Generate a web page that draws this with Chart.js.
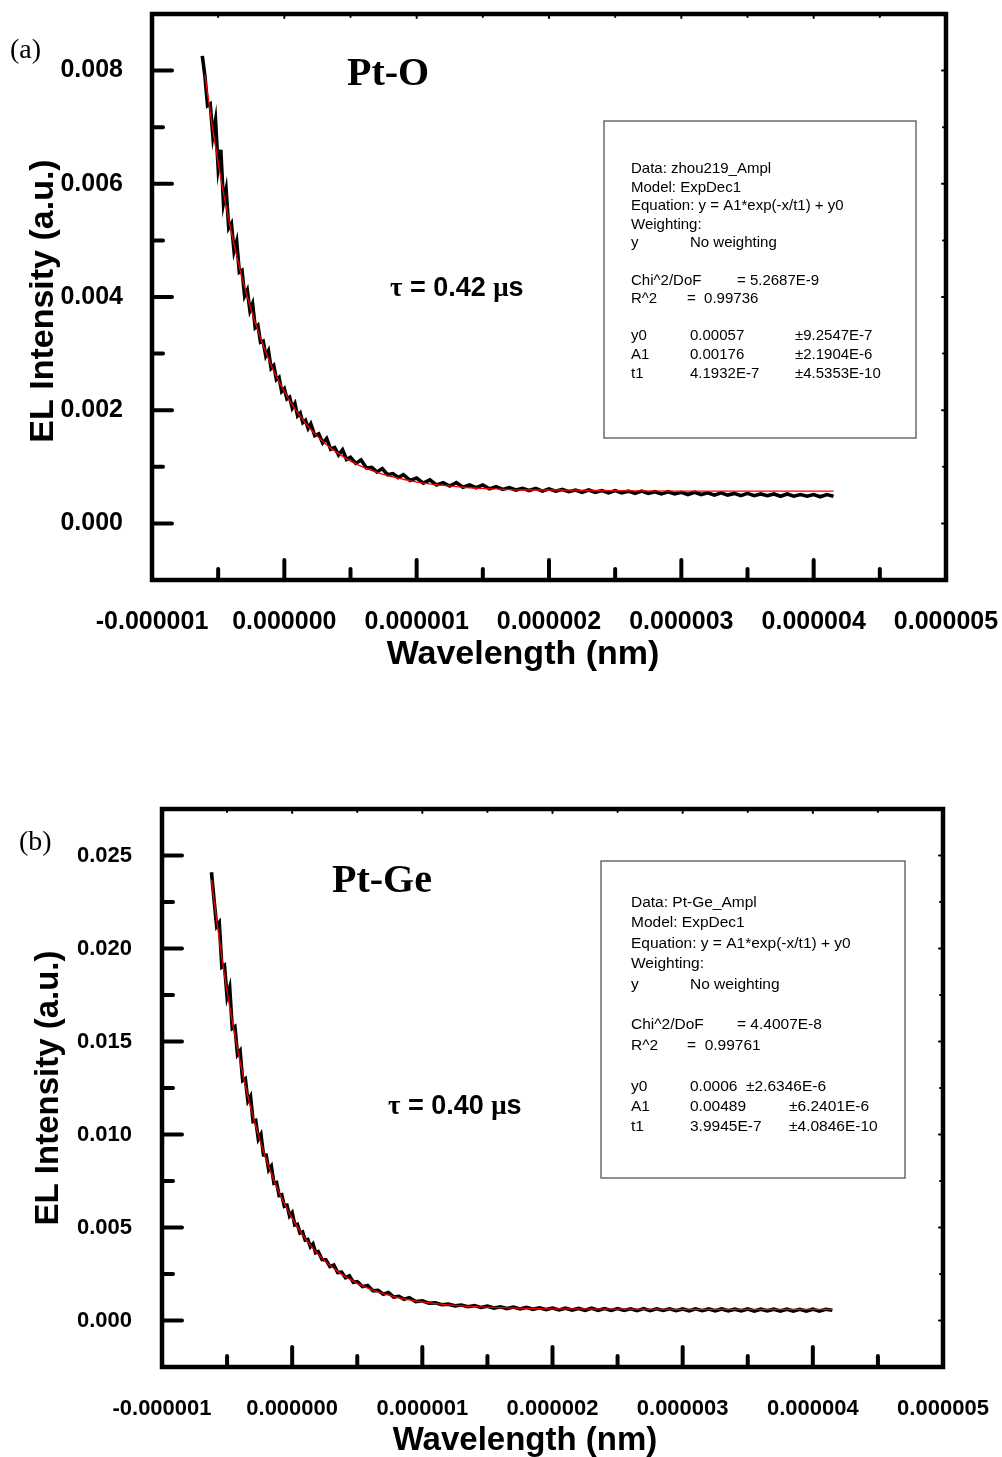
<!DOCTYPE html>
<html>
<head>
<meta charset="utf-8">
<script src="https://cdn.jsdelivr.net/npm/chart.js@4.4.1/dist/chart.umd.min.js"></script>
<style>
  html, body { margin: 0; padding: 0; background: #fff; }
  #page { position: relative; width: 1002px; height: 1457px; overflow: hidden; }
  #page canvas { position: absolute; left: 0; }
  #chartA { top: 0; }
  #chartB { top: 740px; }
</style>
</head>
<body>
<div id="page">
  <canvas id="chartA" width="1002" height="700"></canvas>
  <canvas id="chartB" width="1002" height="717"></canvas>
</div>
<script>
// ---- axes (time in microseconds, labelled in seconds like the original plot) ----
const xMajor = [-1, 0, 1, 2, 3, 4, 5];
const xMinor = [-0.5, 0.5, 1.5, 2.5, 3.5, 4.5];
const xTickLabels = ['-0.000001', '0.000000', '0.000001', '0.000002', '0.000003', '0.000004', '0.000005'];

const yMajorA = [0, 0.002, 0.004, 0.006, 0.008];
const yMinorA = [0.001, 0.003, 0.005, 0.007];
const yTickLabelsA = ['0.000', '0.002', '0.004', '0.006', '0.008'];

const yMajorB = [0, 0.005, 0.010, 0.015, 0.020, 0.025];
const yMinorB = [0.0025, 0.0075, 0.0125, 0.0175, 0.0225];
const yTickLabelsB = ['0.000', '0.005', '0.010', '0.015', '0.020', '0.025'];

// ---- (a) Pt-O : measured trace ----
const timeA = [-0.62,-0.60,-0.58,-0.56,-0.54,-0.52,-0.50,-0.48,-0.46,-0.44,-0.42,-0.40,-0.38,-0.36,-0.34,-0.32,
  -0.30,-0.28,-0.26,-0.24,-0.22,-0.20,-0.18,-0.16,-0.14,-0.12,-0.10,-0.08,-0.06,-0.04,-0.02,0.00,
  0.02,0.04,0.06,0.08,0.10,0.12,0.14,0.16,0.18,0.20,0.23,0.26,0.29,0.32,0.35,0.38,0.41,0.44,0.47,0.50,
  0.54,0.58,0.62,0.66,0.70,0.74,0.78,0.82,0.86,0.90,0.95,
  1.00,1.05,1.10,1.15,1.20,1.25,1.30,1.35,1.40,1.45,1.50,1.55,1.60,1.65,1.70,1.75,1.80,1.85,1.90,1.95,
  2.00,2.05,2.10,2.15,2.20,2.25,2.30,2.35,2.40,2.45,2.50,2.55,2.60,2.65,2.70,2.75,2.80,2.85,2.90,2.95,
  3.00,3.05,3.10,3.15,3.20,3.25,3.30,3.35,3.40,3.45,3.50,3.55,3.60,3.65,3.70,3.75,3.80,3.85,3.90,3.95,
  4.00,4.05,4.10,4.15];
const signalA = [0.00826,0.00790,0.00738,0.00741,0.00684,0.00712,0.00628,0.00660,0.00566,0.00590,0.00522,0.00530,0.00481,0.00498,0.00444,0.00447,
  0.00402,0.00412,0.00376,0.00388,0.00346,0.00350,0.00320,0.00322,0.00296,0.00305,0.00274,0.00279,0.00254,0.00258,0.00233,0.00238,
  0.00220,0.00223,0.00204,0.00212,0.00190,0.00195,0.00178,0.00182,0.00168,0.00176,0.00155,0.00158,0.00142,0.00150,0.00131,0.00134,0.00121,0.00130,0.00113,0.00117,
  0.00106,0.00112,0.00098,0.00099,0.00091,0.00097,0.00086,0.00088,0.00081,0.00086,0.00076,
  0.00080,0.00071,0.00077,0.00068,0.00072,0.00066,0.00072,0.00064,0.00068,0.00063,0.00068,0.00061,0.00065,0.00060,0.00063,0.00059,0.00062,0.00058,0.00062,0.00057,
  0.00061,0.00057,0.00060,0.00056,0.00059,0.00055,0.00059,0.00055,0.00058,0.00054,0.00058,0.00054,0.00057,0.00053,0.00057,0.00053,0.00056,0.00052,0.00056,0.00052,
  0.00055,0.00051,0.00055,0.00051,0.00054,0.00050,0.00054,0.00050,0.00053,0.00049,0.00053,0.00049,0.00052,0.00049,0.00052,0.00048,0.00052,0.00048,0.00051,0.00048,
  0.00051,0.00047,0.00051,0.00048];

// ---- (a) Pt-O : ExpDec1 fit (red) ----
const fitTimeA = [-0.60,-0.55,-0.50,-0.45,-0.40,-0.35,-0.30,-0.25,-0.20,-0.15,-0.10,-0.05,0.00,0.05,0.10,0.15,0.20,0.25,0.30,0.35,0.40,
  0.50,0.60,0.70,0.80,0.90,1.00,1.20,1.40,1.60,1.80,2.00,2.50,3.00,3.50,4.15];
const fitA = [0.00793,0.00710,0.00637,0.00572,0.00514,0.00463,0.00417,0.00377,0.00341,0.00309,0.00280,0.00255,0.00233,0.00213,0.00196,0.00180,0.00166,0.00154,0.00143,0.00133,0.00125,
  0.00110,0.00099,0.00090,0.00083,0.00078,0.00073,0.00067,0.00063,0.00061,0.00059,0.00059,0.00058,0.00057,0.00057,0.00057];

// ---- (b) Pt-Ge : measured trace ----
const timeB = [-0.62,-0.60,-0.58,-0.56,-0.54,-0.52,-0.50,-0.48,-0.46,-0.44,-0.42,-0.40,-0.38,-0.36,-0.34,-0.32,
  -0.30,-0.28,-0.26,-0.24,-0.22,-0.20,-0.18,-0.16,-0.14,-0.12,-0.10,-0.08,-0.06,-0.04,-0.02,0.00,
  0.02,0.04,0.06,0.08,0.10,0.12,0.14,0.16,0.18,0.20,0.23,0.26,0.29,0.32,0.35,0.38,0.41,0.44,0.47,0.50,
  0.54,0.58,0.62,0.66,0.70,0.74,0.78,0.82,0.86,0.90,0.95,
  1.00,1.05,1.10,1.15,1.20,1.25,1.30,1.35,1.40,1.45,1.50,1.55,1.60,1.65,1.70,1.75,1.80,1.85,1.90,1.95,
  2.00,2.05,2.10,2.15,2.20,2.25,2.30,2.35,2.40,2.45,2.50,2.55,2.60,2.65,2.70,2.75,2.80,2.85,2.90,2.95,
  3.00,3.05,3.10,3.15,3.20,3.25,3.30,3.35,3.40,3.45,3.50,3.55,3.60,3.65,3.70,3.75,3.80,3.85,3.90,3.95,
  4.00,4.05,4.10,4.15];
const signalB = [0.02410,0.02260,0.02120,0.02140,0.01900,0.01910,0.01740,0.01790,0.01570,0.01580,0.01430,0.01450,0.01290,0.01300,0.01180,0.01205,
  0.01070,0.01075,0.00975,0.01000,0.00890,0.00890,0.00810,0.00830,0.00738,0.00742,0.00672,0.00676,0.00614,0.00620,0.00562,0.00580,
  0.00514,0.00518,0.00470,0.00476,0.00432,0.00436,0.00396,0.00412,0.00364,0.00370,0.00328,0.00326,0.00290,0.00298,0.00258,0.00260,0.00230,0.00240,0.00206,0.00209,
  0.00182,0.00188,0.00160,0.00162,0.00141,0.00150,0.00126,0.00130,0.00114,0.00123,0.00102,
  0.00106,0.00093,0.00095,0.00085,0.00088,0.00079,0.00083,0.00074,0.00080,0.00070,0.00077,0.00067,0.00074,0.00064,0.00072,0.00062,0.00070,0.00060,0.00068,0.00059,
  0.00067,0.00057,0.00066,0.00056,0.00065,0.00055,0.00066,0.00055,0.00064,0.00054,0.00064,0.00054,0.00063,0.00053,0.00064,0.00053,0.00063,0.00054,0.00063,0.00053,
  0.00062,0.00052,0.00063,0.00053,0.00062,0.00052,0.00062,0.00052,0.00061,0.00052,0.00062,0.00051,0.00061,0.00052,0.00061,0.00051,0.00061,0.00051,0.00060,0.00051,
  0.00061,0.00050,0.00060,0.00055];

// ---- (b) Pt-Ge : ExpDec1 fit (red) ----
const fitTimeB = [-0.62,-0.60,-0.55,-0.50,-0.45,-0.40,-0.35,-0.30,-0.25,-0.20,-0.15,-0.10,-0.05,0.00,0.05,0.10,0.15,0.20,0.25,0.30,0.35,0.40,
  0.50,0.60,0.70,0.80,0.90,1.00,1.20,1.40,1.60,1.80,2.00,2.50,3.00,3.50,4.15];
const fitB = [0.02369,0.02256,0.01998,0.01770,0.01569,0.01391,0.01234,0.01096,0.00974,0.00867,0.00772,0.00688,0.00614,0.00549,0.00491,0.00441,0.00396,0.00356,0.00322,0.00291,0.00264,0.00240,
  0.00200,0.00169,0.00145,0.00126,0.00111,0.00100,0.00084,0.00075,0.00069,0.00065,0.00063,0.00061,0.00060,0.00060,0.00060];

// ---- fit report boxes ----
const reportA = [
  [['Data: zhou219_Ampl', 0]],
  [['Model: ExpDec1', 0]],
  [['Equation: y = A1*exp(-x/t1) + y0', 0]],
  [['Weighting:', 0]],
  [['y', 0], ['No weighting', 2]],
  [],
  [['Chi^2/DoF', 0], ['= 5.2687E-9', 3]],
  [['R^2', 0], ['=  0.99736', 1]],
  [],
  [['y0', 0], ['0.00057', 2], ['\u00B19.2547E-7', 4]],
  [['A1', 0], ['0.00176', 2], ['\u00B12.1904E-6', 4]],
  [['t1', 0], ['4.1932E-7', 2], ['\u00B14.5353E-10', 4]]
];
const reportB = [
  [['Data: Pt-Ge_Ampl', 0]],
  [['Model: ExpDec1', 0]],
  [['Equation: y = A1*exp(-x/t1) + y0', 0]],
  [['Weighting:', 0]],
  [['y', 0], ['No weighting', 2]],
  [],
  [['Chi^2/DoF', 0], ['= 4.4007E-8', 3]],
  [['R^2', 0], ['=  0.99761', 1]],
  [],
  [['y0', 0], ['0.0006  \u00B12.6346E-6', 2]],
  [['A1', 0], ['0.00489', 2], ['\u00B16.2401E-6', 4]],
  [['t1', 0], ['3.9945E-7', 2], ['\u00B14.0846E-10', 4]]
];

const SANS = '"Liberation Sans", Arial, sans-serif';
const SERIF = '"Liberation Serif", "Times New Roman", serif';

function toPoints(xs, ys){ return xs.map((x, i) => ({x: x, y: ys[i]})); }

// frame + inward ticks, drawn on top of the traces
function framePlugin(p){
  return {
    id: 'frame',
    afterDatasetsDraw(chart){
      const {ctx, chartArea: a, scales: {x, y}} = chart;
      ctx.save();
      ctx.strokeStyle = '#000';
      ctx.lineCap = 'round';
      const line = (x1, y1, x2, y2, w) => {
        ctx.lineWidth = w; ctx.beginPath(); ctx.moveTo(x1, y1); ctx.lineTo(x2, y2); ctx.stroke();
      };
      p.xMajor.forEach(v => { const px = x.getPixelForValue(v);
        line(px, a.bottom, px, a.bottom - 20, 4); line(px, a.top, px, a.top + 4, 2); });
      p.xMinor.forEach(v => { const px = x.getPixelForValue(v);
        line(px, a.bottom, px, a.bottom - 11, 4); line(px, a.top, px, a.top + 3, 2); });
      p.yMajor.forEach(v => { const py = y.getPixelForValue(v);
        line(a.left, py, a.left + 20, py, 4); line(a.right, py, a.right - 4, py, 2); });
      p.yMinor.forEach(v => { const py = y.getPixelForValue(v);
        line(a.left, py, a.left + 11, py, 4); line(a.right, py, a.right - 3, py, 2); });
      ctx.lineCap = 'butt';
      ctx.lineJoin = 'miter';
      ctx.lineWidth = 4.5;
      ctx.strokeRect(a.left, a.top, a.right - a.left, a.bottom - a.top);
      ctx.restore();
    }
  };
}

// titles and annotations (page coordinates, shifted by the canvas offset)
function textPlugin(t){
  return {
    id: 'labels',
    afterDraw(chart){
      const ctx = chart.ctx, off = t.offset;
      ctx.save();
      ctx.fillStyle = '#000';
      ctx.textBaseline = 'alphabetic';

      ctx.textAlign = 'left';
      ctx.font = '28px ' + SERIF;
      ctx.fillText(t.panel, t.panelX, t.panelY - off);

      ctx.font = 'bold 40px ' + SERIF;
      ctx.fillText(t.sample, t.sampleX, t.sampleY - off);

      // tau = x.xx mus
      let tx = t.tauX;
      const parts = [['\u03C4', SERIF], [' = ' + t.tau + ' ', SANS], ['\u03BC', SERIF], ['s', SANS]];
      parts.forEach(([s, f]) => {
        ctx.font = 'bold ' + t.tauSize + 'px ' + f;
        ctx.fillText(s, tx, t.tauY - off);
        tx += ctx.measureText(s).width;
      });

      // axis titles
      ctx.font = 'bold ' + t.titleSize + 'px ' + SANS;
      ctx.textAlign = 'center';
      ctx.fillText('Wavelength (nm)', t.xTitleX, t.xTitleY - off);
      ctx.save();
      ctx.translate(t.yTitleX, t.yTitleY - off);
      ctx.rotate(-Math.PI / 2);
      ctx.fillText('EL Intensity (a.u.)', 0, 0);
      ctx.restore();

      // fit report box
      const b = t.box;
      ctx.strokeStyle = '#555';
      ctx.lineWidth = 1.3;
      ctx.strokeRect(b.x, b.y - off, b.w, b.h);
      ctx.textAlign = 'left';
      ctx.font = b.font + 'px ' + SANS;
      t.report.forEach((row, i) => {
        row.forEach(([s, c]) => ctx.fillText(s, b.cols[c], b.firstLine + i * b.lineGap - off));
      });
      ctx.restore();
    }
  };
}

function makeChart(id, cfg){
  const tickFont = {family: SANS, weight: 'bold', size: cfg.tickSize};
  return new Chart(document.getElementById(id), {
    type: 'line',
    data: {
      datasets: [
        { label: 'ExpDec1 fit', data: toPoints(cfg.fitX, cfg.fitY), borderColor: '#ff0000', borderWidth: 1.3,
          pointRadius: 0, cubicInterpolationMode: 'monotone', fill: false },
        { label: 'EL decay', data: toPoints(cfg.dataX, cfg.dataY), borderColor: '#000000', borderWidth: 3.6,
          pointRadius: 0, tension: 0, fill: false, borderJoinStyle: 'miter' }
      ]
    },
    options: {
      responsive: false,
      animation: false,
      events: [],
      layout: { padding: cfg.padding },
      plugins: { legend: { display: false }, tooltip: { enabled: false } },
      scales: {
        x: {
          type: 'linear', min: -1, max: 5,
          afterBuildTicks: s => { s.ticks = xMajor.map(v => ({value: v})); },
          ticks: { callback: (v, i) => xTickLabels[i], font: tickFont, color: '#000', padding: cfg.xPad,
                   maxRotation: 0, autoSkip: false },
          grid: { display: false }, border: { display: false },
          afterFit: s => { s.height = cfg.xHeight; s.paddingLeft = 0; s.paddingRight = 0; }
        },
        y: {
          type: 'linear', min: cfg.yMin, max: cfg.yMax,
          afterBuildTicks: s => { s.ticks = cfg.yMajor.map(v => ({value: v})); },
          ticks: { callback: (v, i) => cfg.yLabels[i], font: tickFont, color: '#000', padding: cfg.yPad, autoSkip: false },
          grid: { display: false }, border: { display: false },
          afterFit: s => { s.width = cfg.yWidth; s.paddingTop = 0; s.paddingBottom = 0; }
        }
      }
    },
    plugins: [framePlugin({xMajor, xMinor, yMajor: cfg.yMajor, yMinor: cfg.yMinor}), textPlugin(cfg.text)]
  });
}

makeChart('chartA', {
  dataX: timeA, dataY: signalA, fitX: fitTimeA, fitY: fitA,
  yMin: -0.001, yMax: 0.009, yMajor: yMajorA, yMinor: yMinorA, yLabels: yTickLabelsA,
  tickSize: 25, xPad: 19, yPad: 21, xHeight: 120, yWidth: 152,
  padding: {left: 0, right: 56, top: 14, bottom: 0},
  text: {
    offset: 0, panel: '(a)', panelX: 10, panelY: 58,
    sample: 'Pt-O', sampleX: 347, sampleY: 85,
    tau: '0.42', tauX: 390, tauY: 296, tauSize: 27,
    titleSize: 34, xTitleX: 523, xTitleY: 664, yTitleX: 53, yTitleY: 301,
    box: {x: 604, y: 121, w: 312, h: 317, font: 15, firstLine: 173, lineGap: 18.6, cols: [631, 687, 690, 737, 795]},
    report: reportA
  }
});

makeChart('chartB', {
  dataX: timeB, dataY: signalB, fitX: fitTimeB, fitY: fitB,
  yMin: -0.0025, yMax: 0.0275, yMajor: yMajorB, yMinor: yMinorB, yLabels: yTickLabelsB,
  tickSize: 22, xPad: 21, yPad: 22, xHeight: 90, yWidth: 162,
  padding: {left: 0, right: 59, top: 69, bottom: 0},
  text: {
    offset: 740, panel: '(b)', panelX: 19, panelY: 850,
    sample: 'Pt-Ge', sampleX: 332, sampleY: 892,
    tau: '0.40', tauX: 388, tauY: 1114, tauSize: 27,
    titleSize: 33, xTitleX: 525, xTitleY: 1450, yTitleX: 58, yTitleY: 1088,
    box: {x: 601, y: 861, w: 304, h: 317, font: 15.5, firstLine: 907, lineGap: 20.4, cols: [631, 687, 690, 737, 789]},
    report: reportB
  }
});
</script>
</body>
</html>
